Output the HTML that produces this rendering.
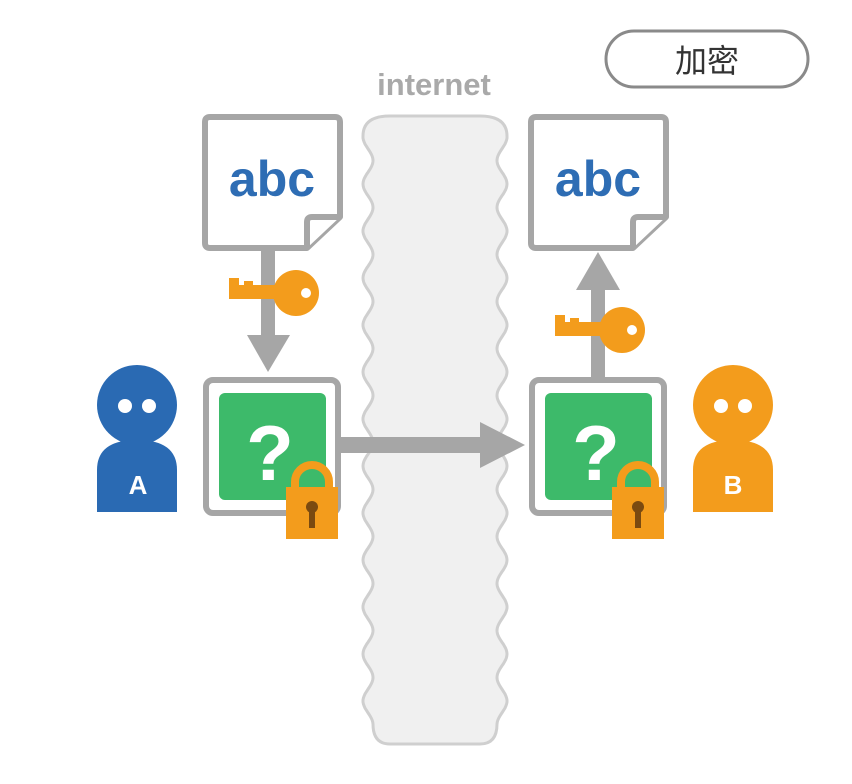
<!DOCTYPE html>
<html><head><meta charset="utf-8"><style>
html,body{margin:0;padding:0;background:#fff;}
svg{display:block}
text{font-family:"Liberation Sans","Noto Sans CJK SC",sans-serif;}
</style></head><body>
<svg id="s" width="852" height="784" viewBox="0 0 852 784" xmlns="http://www.w3.org/2000/svg">
<path id="band" fill="#f0f0f0" stroke="#cfcfcf" stroke-width="3" d=""/>
<text x="434" y="95" font-size="31" font-weight="bold" fill="#a9a9a9" text-anchor="middle">internet</text>
<rect x="606" y="31" width="202" height="56" rx="28" fill="#fff" stroke="#8a8a8a" stroke-width="3"/>
<text x="707" y="72" font-size="32" fill="#333" text-anchor="middle">加密</text>

<g fill="#fff" stroke="#a6a6a6" stroke-width="6" stroke-linejoin="round">
<path d="M210 117 H335 Q340 117 340 122 V217 L307 248 H210 Q205 248 205 243 V122 Q205 117 210 117 Z"/>
<path d="M307 248 V222 Q307 217 312 217 H340"/>
<path d="M536 117 H661 Q666 117 666 122 V217 L633 248 H536 Q531 248 531 243 V122 Q531 117 536 117 Z"/>
<path d="M633 248 V222 Q633 217 638 217 H666"/>
</g>
<text x="272" y="196" font-size="50" font-weight="bold" fill="#2e6db4" text-anchor="middle">abc</text>
<text x="598" y="196" font-size="50" font-weight="bold" fill="#2e6db4" text-anchor="middle">abc</text>

<g fill="#a6a6a6">
<rect x="261" y="250" width="14" height="90"/>
<polygon points="247,335 290,335 268,372"/>
<rect x="591" y="288" width="14" height="92"/>
<polygon points="576,290 620,290 598,252"/>
<rect x="340" y="437" width="145" height="16"/>
<polygon points="480,422 480,468 525,445"/>
</g>

<g fill="#f39c1c">
<circle cx="296" cy="293" r="23"/>
<rect x="229" y="285" width="50" height="14"/>
<rect x="229" y="278" width="10" height="20"/>
<rect x="244" y="281" width="9" height="12"/>
<circle cx="622" cy="330" r="23"/>
<rect x="555" y="322" width="50" height="14"/>
<rect x="555" y="315" width="10" height="20"/>
<rect x="570" y="318" width="9" height="12"/>
</g>
<circle cx="306" cy="293" r="5" fill="#fff"/>
<circle cx="632" cy="330" r="5" fill="#fff"/>

<g fill="#fff" stroke="#a6a6a6" stroke-width="6">
<rect x="206" y="380" width="132" height="133" rx="7"/>
<rect x="532" y="380" width="132" height="133" rx="7"/>
</g>
<rect x="219" y="393" width="107" height="107" rx="6" fill="#3dba6a"/>
<rect x="545" y="393" width="107" height="107" rx="6" fill="#3dba6a"/>
<text x="270" y="480" font-size="78" font-weight="bold" fill="#fff" text-anchor="middle">?</text>
<text x="596" y="480" font-size="78" font-weight="bold" fill="#fff" text-anchor="middle">?</text>

<g>
<path d="M295 490 V482 A17 17 0 0 1 329 482 V490" fill="none" stroke="#f39c1c" stroke-width="8"/>
<rect x="286" y="487" width="52" height="52" fill="#f39c1c"/>
<circle cx="312" cy="507" r="6" fill="#7a4a10"/>
<rect x="309" y="508" width="6" height="20" fill="#7a4a10"/>
<path d="M621 490 V482 A17 17 0 0 1 655 482 V490" fill="none" stroke="#f39c1c" stroke-width="8"/>
<rect x="612" y="487" width="52" height="52" fill="#f39c1c"/>
<circle cx="638" cy="507" r="6" fill="#7a4a10"/>
<rect x="635" y="508" width="6" height="20" fill="#7a4a10"/>
</g>

<g fill="#2a6ab3">
<circle cx="137" cy="405" r="40"/>
<path d="M97 512 V470 Q97 440 137 440 Q177 440 177 470 V512 Z"/>
</g>
<circle cx="125" cy="406" r="7" fill="#fff"/><circle cx="149" cy="406" r="7" fill="#fff"/>
<text x="138" y="494" font-size="26" font-weight="bold" fill="#fff" text-anchor="middle">A</text>
<g fill="#f39c1c">
<circle cx="733" cy="405" r="40"/>
<path d="M693 512 V470 Q693 440 733 440 Q773 440 773 470 V512 Z"/>
</g>
<circle cx="721" cy="406" r="7" fill="#fff"/><circle cx="745" cy="406" r="7" fill="#fff"/>
<text x="733" y="494" font-size="26" font-weight="bold" fill="#fff" text-anchor="middle">B</text>
</svg>
<script>
(function(){
var top=116,bot=744,L=368,R=502,A=5,P=47,y0=137;
function f(y){return A*Math.cos((y-y0)/P*2*Math.PI);}
var d="M"+(L+22)+" "+top+" H"+(R-22)+" Q"+(R+f(top+20))+" "+top+" "+(R+f(top+20)).toFixed(1)+" "+(top+20);
for(var y=top+20;y<=bot-20;y+=2){d+=" L"+(R+f(y)).toFixed(1)+" "+y;}
d+=" Q"+(R+f(bot-20)).toFixed(1)+" "+bot+" "+(R-22)+" "+bot+" H"+(L+22)+" Q"+(L-f(bot-20)).toFixed(1)+" "+bot+" "+(L-f(bot-20)).toFixed(1)+" "+(bot-20);
for(var y=bot-20;y>=top+20;y-=2){d+=" L"+(L-f(y)).toFixed(1)+" "+y;}
d+=" Q"+(L-f(top+20)).toFixed(1)+" "+top+" "+(L+22)+" "+top+" Z";
document.getElementById("band").setAttribute("d",d);
})();
</script>
</body></html>
